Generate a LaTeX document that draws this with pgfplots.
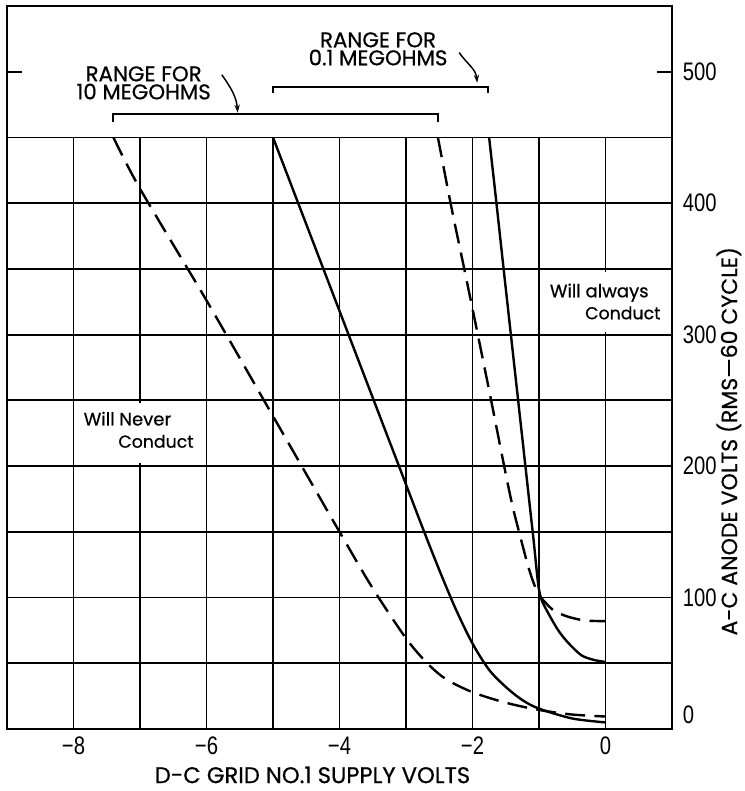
\documentclass[border=0pt]{standalone}
\usepackage{fontspec}
\setmainfont{Poppins}[FakeBold=0.6]
\newfontfamily\numfont{Liberation Sans}
\usepackage{pgfplots}
\pgfplotsset{compat=1.18}
\usetikzlibrary{arrows.meta}

\begin{document}
\begin{tikzpicture}
\useasboundingbox (-5.25pt,-46.5pt) rectangle (552.75pt,546.75pt);
\begin{axis}[
  scale only axis,
  width=498.75pt, height=542.25pt,
  xmin=-9, xmax=1, ymin=0, ymax=550,
  axis line style={line width=2.2pt},
  major tick length=0pt,
  xtick={-8,-6,-4,-2,0},
  xticklabels={−8,−6,−4,−2,0},
  ytick={100,200,300,400,500},
  yticklabels={100,200,300,400,500},
  extra y ticks={0}, extra y tick labels={0},
  extra y tick style={yticklabel style={yshift=10.5pt}},
  yticklabel pos=right,
  xticklabel style={font=\numfont\fontsize{19}{19}\selectfont, inner sep=0pt, yshift=-6pt, xscale=0.8},
  yticklabel style={font=\numfont\fontsize{19}{19}\selectfont, inner sep=0pt, xshift=8pt, xscale=0.8, anchor=west},
  clip=false,
]
% grid
\pgfplotsinvokeforeach{-8,...,0}{\draw[line width=1.4pt] (axis cs:#1,0) -- (axis cs:#1,450);}
\pgfplotsinvokeforeach{50,100,...,450}{\draw[line width=1.4pt] (axis cs:-9,#1) -- (axis cs:1,#1);}
\draw[line width=1.4pt] (axis cs:-9,500) -- ([xshift=11pt]axis cs:-9,500);
\draw[line width=1.4pt] (axis cs:1,500) -- ([xshift=-11pt]axis cs:1,500);
% white label boxes
\fill[white] (axis cs:-7.9,202) rectangle (axis cs:-6.1,248);
\fill[white] (axis cs:-0.9,302) rectangle (axis cs:0.9,348);

% 10 megohm, left (dashed)
\addplot[line width=1.8pt, dash pattern=on 15pt off 7pt, smooth, tension=0.5] coordinates {
(-7.40,450) (-7.0,411) (-6.0,326) (-5.0,238) (-4.0,150) (-3.5,107) (-3.0,69) (-2.68,50) (-2.4,38) (-2.0,28) (-1.5,20) (-1.0,14.5) (-0.5,11) (0,9.5)};
% 0.1 megohm, left (solid)
\addplot[line width=1.8pt, smooth, tension=0.5] coordinates {
(-5,450) (-4,318) (-3,186) (-2.75,153) (-2.5,121) (-2.25,91) (-2,65) (-1.75,45) (-1.5,32) (-1.25,22) (-1,15.5) (-0.5,8) (0,5)};
% 10 megohm, right (dashed)
\addplot[line width=1.8pt, dash pattern=on 15pt off 7pt, smooth, tension=0.5] coordinates {
(-2.52,450) (-2.33,400) (-2.12,349) (-1.92,300) (-1.72,250) (-1.52,199) (-1.40,170) (-1.29,148) (-1.17,125) (-1.08,111) (-1.0,102) (-0.9,96) (-0.8,91) (-0.65,87) (-0.5,84.5) (-0.3,82.5) (0,82)};
% 0.1 megohm, right (solid)
\addplot[line width=1.8pt, smooth, tension=0.5] coordinates {
(-1.75,450) (-1.64,400) (-1.53,349) (-1.34,262) (-1.15,175) (-1.08,143) (-1.03,118) (-1.0,106) (-0.96,98) (-0.86,88) (-0.71,75) (-0.56,65.5) (-0.36,56) (-0.17,52.5) (0,51)};

% range brackets
\draw[line width=1.2pt] (axis cs:-7.41,462) -- (axis cs:-7.41,468) -- (axis cs:-2.52,468) -- (axis cs:-2.52,462);
\draw[line width=1.2pt] (axis cs:-5,484) -- (axis cs:-5,488.6) -- (axis cs:-1.77,488.6) -- (axis cs:-1.77,484);
\draw[line width=1.1pt, -{Stealth[length=6pt,width=4pt]}] (axis cs:-5.77,497.7) to[out=-55,in=95] (axis cs:-5.53,468.8);
\draw[line width=1.1pt, -{Stealth[length=6pt,width=4pt]}] (axis cs:-2.20,514.5) to[out=-55,in=95] (axis cs:-1.93,491.6);

\node[align=center, font=\fontsize{16}{13.5}\selectfont] at (axis cs:-6.945,491.5) {RANGE FOR\\10 MEGOHMS};
\node[align=center, font=\fontsize{16}{13.5}\selectfont] at (axis cs:-3.42,517.4) {RANGE FOR\\0.1 MEGOHMS};

\node[anchor=base west, inner sep=0pt, font=\fontsize{13.5}{13.5}\selectfont] at (axis cs:-7.85,230.9) {Will Never};
\node[anchor=base east, inner sep=0pt, font=\fontsize{13}{13}\selectfont] at (axis cs:-6.19,214) {Conduct};
\node[anchor=base west, inner sep=0pt, font=\fontsize{13.5}{13.5}\selectfont] at (axis cs:-0.84,328.4) {Will always};
\node[anchor=base east, inner sep=0pt, font=\fontsize{13}{13}\selectfont] at (axis cs:0.83,311.7) {Conduct};

\node[font=\fontsize{17}{17}\selectfont] at (rel axis cs:0.4594,0) [yshift=-34.5pt] {D-C GRID NO.1 SUPPLY VOLTS};
\node[rotate=90, font=\fontsize{16.5}{16.5}\selectfont] at (rel axis cs:1.0855,0.398) {A-C ANODE VOLTS (RMS—60 CYCLE)};
\end{axis}
\end{tikzpicture}
\end{document}
